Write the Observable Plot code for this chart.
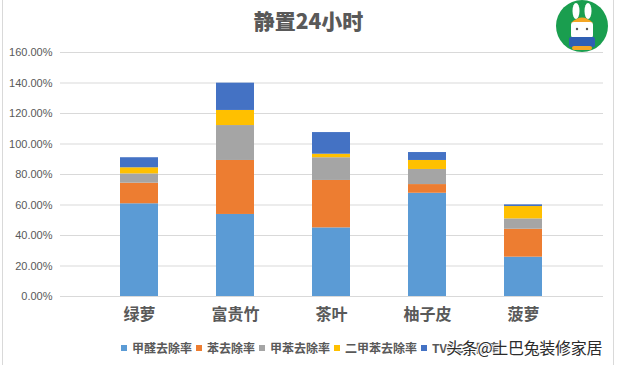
<!DOCTYPE html>
<html>
<head>
<meta charset="utf-8">
<script src="https://cdn.jsdelivr.net/npm/d3@7"></script>
<script src="https://cdn.jsdelivr.net/npm/@observablehq/plot@0.6"></script>
<style>
  html, body { margin: 0; padding: 0; background: #fff; }
  #wrap { position: relative; width: 617px; height: 365px; overflow: hidden; font-family: "Noto Sans CJK SC", "Liberation Sans", sans-serif; }
  #frame { position: absolute; left: 2px; top: -2px; width: 612px; height: 370px; border-left: 1px solid #d9d9d9; border-right: 1px solid #d9d9d9; box-sizing: border-box; }
  #title { position: absolute; left: 0; width: 617px; top: 5px; text-align: center; font-size: 21px; font-weight: 900; color: #595959; line-height: 30px; font-family: "Noto Sans CJK SC", sans-serif; }
  #chart { position: absolute; left: 0; top: 40px; }
  #legend { position: absolute; left: 121px; top: 339px; display: flex; align-items: center; font-size: 12px; font-weight: 700; color: #595959; line-height: 18px; white-space: nowrap; }
  #legend .sw { width: 6px; height: 6px; margin-right: 5px; }
  #legend .it { display: flex; align-items: center; margin-right: 4px; }
  #wm { position: absolute; left: 446px; top: 336px; font-size: 16px; color: #2b2b2b; line-height: 22px; letter-spacing: -0.3px;
        text-shadow: 0 0 2px #fff, 0 0 2px #fff, 0 0 3px #fff, 1px 1px 0 #fff, -1px -1px 0 #fff; }
  #logo { position: absolute; left: 550px; top: 0px; }
</style>
</head>
<body>
<div id="wrap">
  <div id="frame"></div>
  <div id="title">静置24小时</div>
  <div id="chart"></div>
  <div id="legend"></div>
  <div id="wm">头条@土巴兔装修家居</div>
  <svg id="logo" width="66" height="56" viewBox="0 0 66 56">
    <circle cx="32" cy="26" r="26" fill="#1a9e4f"/>
    <ellipse cx="26" cy="11" rx="3.5" ry="8" fill="#fff"/>
    <ellipse cx="38" cy="11" rx="3.5" ry="8" fill="#fff"/>
    <path d="M21 23 Q32 12 43 23 Z" fill="#f5a623"/>
    <rect x="21" y="22" width="22" height="16" rx="3" fill="#fff"/>
    <circle cx="27" cy="29" r="1.2" fill="#555"/>
    <circle cx="37" cy="29" r="1.2" fill="#555"/>
    <rect x="19" y="37" width="26" height="10" rx="2" fill="#2f5fb3"/>
    <rect x="22" y="46" width="20" height="4" rx="2" fill="#f5a623"/>
  </svg>
</div>
<script>
const categories = ["绿萝", "富贵竹", "茶叶", "柚子皮", "菠萝"];
const seriesNames = ["甲醛去除率", "苯去除率", "甲苯去除率", "二甲苯去除率", "TVOC去除率"];
const colors = ["#5b9bd5", "#ed7d31", "#a5a5a5", "#ffc000", "#4472c4"];
const formaldehyde = [0.608, 0.538, 0.450, 0.677, 0.258];
const benzene      = [0.135, 0.354, 0.311, 0.057, 0.183];
const toluene      = [0.061, 0.229, 0.149, 0.099, 0.068];
const xylene       = [0.040, 0.099, 0.023, 0.059, 0.081];
const tvoc         = [0.066, 0.179, 0.142, 0.052, 0.011];
const yTicks = [0, 0.2, 0.4, 0.6, 0.8, 1.0, 1.2, 1.4, 1.6];

const seriesValues = [formaldehyde, benzene, toluene, xylene, tvoc];
const data = [];
seriesNames.forEach((s, si) => {
  categories.forEach((c, ci) => data.push({category: c, series: s, value: seriesValues[si][ci]}));
});

const plot = Plot.plot({
  width: 617,
  height: 290,
  marginTop: 12,
  marginBottom: 34,
  marginLeft: 60,
  marginRight: 14,
  style: {fontFamily: "'Liberation Sans', 'Noto Sans CJK SC', sans-serif", background: "transparent"},
  x: {domain: categories, padding: 0.6, label: null},
  y: {domain: [0, 1.6], ticks: yTicks, label: null},
  color: {domain: seriesNames, range: colors},
  marks: [
    Plot.gridY(yTicks, {stroke: "#d9d9d9", strokeOpacity: 1}),
    Plot.barY(data, {x: "category", y: "value", fill: "series", order: seriesNames}),
    Plot.ruleY([0], {stroke: "#d9d9d9"}),
    Plot.axisY(yTicks, {tickSize: 0, tickPadding: 8, tickFormat: d => (d * 100).toFixed(2) + "%", fontSize: 11, color: "#595959", label: null}),
    Plot.axisX({tickSize: 0, tickPadding: 12, fontSize: 16, fontWeight: "bold", color: "#595959", label: null, fontFamily: "'Noto Sans CJK SC', sans-serif"})
  ]
});
document.getElementById("chart").appendChild(plot);

const legend = document.getElementById("legend");
seriesNames.forEach((s, i) => {
  const it = document.createElement("div");
  it.className = "it";
  const sw = document.createElement("div");
  sw.className = "sw";
  sw.style.background = colors[i];
  const tx = document.createElement("span");
  tx.textContent = s;
  it.appendChild(sw);
  it.appendChild(tx);
  legend.appendChild(it);
});
</script>
</body>
</html>
